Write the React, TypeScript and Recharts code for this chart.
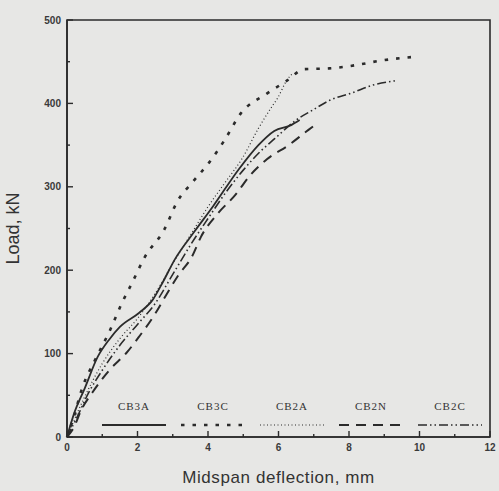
import { LineChart, Line, XAxis, YAxis, ReferenceArea, Label } from "recharts";

// load-deflection curves: [deflection mm, load kN]
const cb3a: [number, number][] = [
  [0, 0], [0.2, 28], [0.5, 58], [0.87, 96], [1.2, 117], [1.5, 132], [2.05, 149],
  [2.44, 165], [2.71, 185], [3.06, 213], [3.61, 246], [4.15, 277], [4.89, 322],
  [5.43, 350], [5.88, 367], [6.36, 374], [6.6, 380],
];
const cb3c: [number, number][] = [
  [0, 0], [0.2, 25], [0.41, 56], [0.84, 96], [1.22, 128], [1.54, 159], [1.86, 186],
  [2.21, 216], [2.75, 248], [3.15, 284], [3.57, 306], [4.03, 329], [4.47, 356],
  [4.93, 388], [5.68, 412], [6.23, 427], [6.73, 441], [7.44, 442], [8.21, 446],
  [8.86, 451], [9.9, 456],
];
const cb2a: [number, number][] = [
  [0, 0], [0.5, 48], [1, 88], [1.5, 118], [2, 142], [2.5, 172], [3, 208], [3.5, 242],
  [4, 276], [4.5, 306], [4.97, 334], [5.43, 370], [5.78, 394], [5.97, 406],
  [6.24, 428], [6.4, 436],
];
const cb2n: [number, number][] = [
  [0, 0], [0.2, 12], [0.4, 32], [0.73, 54], [1.22, 81], [1.69, 101], [2.04, 120],
  [2.46, 145], [2.81, 170], [3.16, 194], [3.54, 216], [3.8, 240], [4.3, 269],
  [4.77, 290], [5.2, 314], [5.67, 333], [6.29, 350], [6.84, 368], [7.1, 376],
];
const cb2c: [number, number][] = [
  [0, 0], [0.3, 25], [0.6, 52], [1, 80], [1.5, 110], [2, 135], [2.5, 160], [3, 195],
  [3.5, 230], [4, 262], [4.5, 293], [5, 320], [5.5, 343], [5.9, 358], [6.5, 380],
  [6.97, 392], [7.47, 404], [8.11, 413], [8.68, 422], [9.3, 427],
];

const xTicks = [0, 1, 2, 3, 4, 5, 6, 7, 8, 9, 10, 11, 12];
const xLabels = [0, 2, 4, 6, 8, 10, 12];
const yTicks = [0, 50, 100, 150, 200, 250, 300, 350, 400, 450, 500];
const yLabels = [0, 100, 200, 300, 400, 500];

const INK = "#2b2b2b";
const BG = "#e7e7e5";

const series = [
  { name: "CB3A", pts: cb3a, dash: undefined, width: 1.8 },
  { name: "CB3C", pts: cb3c, dash: "3.5 8", width: 2.6 },
  { name: "CB2A", pts: cb2a, dash: "1 2.5", width: 1.2 },
  { name: "CB2N", pts: cb2n, dash: "10 7", width: 2 },
  { name: "CB2C", pts: cb2c, dash: "9 3 1.5 3 1.5 3", width: 1.6 },
];

const toRows = (pts: [number, number][]) => pts.map(([x, y]) => ({ x, y }));

const XTick = (props: any) => {
  const { x, y, payload } = props;
  const major = xLabels.includes(payload.value);
  return (
    <g>
      <line x1={x} x2={x} y1={y} y2={y - (major ? 6 : 3)} stroke={INK} strokeWidth={1.4} />
      {major && (
        <text x={x} y={y + 14} textAnchor="middle" fontSize={10} fontWeight="bold"
          fontFamily="Liberation Sans, Arial, sans-serif" fill="#3a3a3a">
          {payload.value}
        </text>
      )}
    </g>
  );
};

const YTick = (props: any) => {
  const { x, y, payload } = props;
  const major = yLabels.includes(payload.value);
  return (
    <g>
      <line x1={x} x2={x + (major ? 6 : 3)} y1={y} y2={y} stroke={INK} strokeWidth={1.4} />
      {major && (
        <text x={x - 6} y={y + 3.5} textAnchor="end" fontSize={10} fontWeight="bold"
          fontFamily="Liberation Sans, Arial, sans-serif" fill="#3a3a3a">
          {payload.value}
        </text>
      )}
    </g>
  );
};

// legend: names on one row, line samples underneath
const LegendBox = () => (
  <svg width={400} height={36} style={{ position: "absolute", left: 87, top: 394 }}>
    {series.map((s, i) => {
      const cx = 47 + i * 79;
      return (
        <g key={s.name}>
          <text x={cx} y={16} textAnchor="middle" fontSize={11} letterSpacing={1}
            fontFamily="Liberation Serif, Times New Roman, serif" fill="#333">
            {s.name}
          </text>
          <line x1={cx - 32} x2={cx + 32} y1={31} y2={31} stroke={INK}
            strokeWidth={s.width} strokeDasharray={s.dash} />
        </g>
      );
    })}
  </svg>
);

export default function App() {
  return (
    <div style={{ position: "absolute", left: 0, top: 0, width: 499, height: 491, background: BG, overflow: "hidden" }}>
      <LineChart width={499} height={491} margin={{ top: 20, right: 9, bottom: 24, left: 0 }}>
        <XAxis
          dataKey="x"
          type="number"
          domain={[0, 12]}
          ticks={xTicks}
          interval={0}
          tickSize={0}
          tickMargin={0}
          tick={<XTick />}
          height={30}
          axisLine={{ stroke: INK, strokeWidth: 1.6 }}
          allowDuplicatedCategory={false}
        >
          <Label value="Midspan deflection, mm" position="bottom" offset={4}
            style={{ fontSize: 17, fontFamily: "Liberation Sans, Arial, sans-serif", fill: "#333", letterSpacing: 0.6 }} />
        </XAxis>
        <YAxis
          dataKey="y"
          type="number"
          domain={[0, 500]}
          ticks={yTicks}
          interval={0}
          tickSize={0}
          tickMargin={0}
          tick={<YTick />}
          width={67}
          axisLine={{ stroke: INK, strokeWidth: 1.6 }}
        >
          <Label value="Load, kN" angle={-90} position="insideLeft" offset={13}
            style={{ textAnchor: "middle", fontSize: 18, fontFamily: "Liberation Sans, Arial, sans-serif", fill: "#333" }} />
        </YAxis>
        <ReferenceArea x1={0} x2={12} y1={0} y2={500} fill="none" stroke={INK} strokeWidth={1.6} />
        {series.map((s) => (
          <Line
            key={s.name}
            data={toRows(s.pts)}
            dataKey="y"
            name={s.name}
            type="monotone"
            stroke={INK}
            strokeWidth={s.width}
            strokeDasharray={s.dash}
            dot={false}
            isAnimationActive={false}
          />
        ))}
      </LineChart>
      <LegendBox />
    </div>
  );
}
